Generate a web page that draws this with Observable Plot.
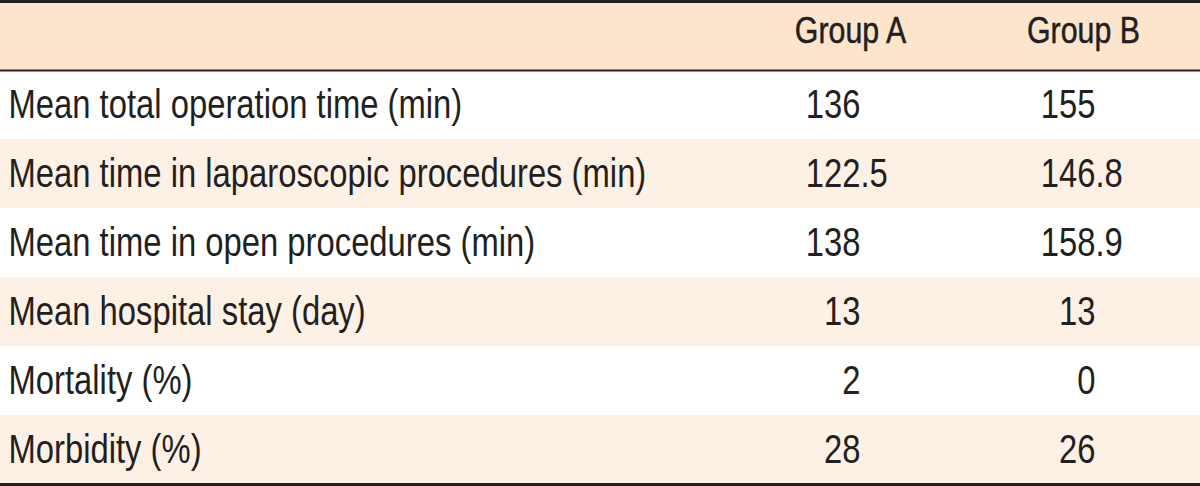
<!DOCTYPE html>
<html>
<head>
<meta charset="utf-8">
<script src="https://cdn.jsdelivr.net/npm/d3@7"></script>
<script src="https://cdn.jsdelivr.net/npm/@observablehq/plot@0.6"></script>
<style>
  html, body { margin: 0; padding: 0; background: #ffffff; overflow: hidden; }
  #chart svg { display: block; }
</style>
</head>
<body>
<div id="chart"></div>
<script>
// ---- data ----
const groups = ["Group A", "Group B"];
const rowLabels = [
  "Mean total operation time (min)",
  "Mean time in laparoscopic procedures (min)",
  "Mean time in open procedures (min)",
  "Mean hospital stay (day)",
  "Mortality (%)",
  "Morbidity (%)"
];
const groupAValues = ["136", "122.5", "138", "13", "2", "28"];
const groupBValues = ["155", "146.8", "158.9", "13", "0", "26"];

// ---- layout (in x-scale units: 0..1200 table width) ----
const tableWidth = 1200;
const labelX = 8;
const headerCenter = {"Group A": 850, "Group B": 1083};
const decimalAnchor = {"Group A": 860, "Group B": 1095};
const font = "'Liberation Sans', Arial, sans-serif";
const condense = 0.82; // horizontal squeeze to emulate a condensed face
const ink = "#231f20";

// table rows: index 0 = header, 1..6 = body
const bodyRows = rowLabels.map((label, k) => ({i: k + 1, label, a: groupAValues[k], b: groupBValues[k]}));
const stripes = [{i: 0, fill: "#fde5cd"}].concat(
  bodyRows.map(r => ({i: r.i, fill: r.i % 2 === 0 ? "#fdf1e5" : "#ffffff"}))
);
const cells = bodyRows.flatMap(r => [
  {i: r.i, group: "Group A", value: r.a},
  {i: r.i, group: "Group B", value: r.b}
]).map(c => {
  const dot = c.value.indexOf(".");
  return {...c, intPart: dot < 0 ? c.value : c.value.slice(0, dot), fracPart: dot < 0 ? "" : c.value.slice(dot)};
});
const headers = groups.map(g => ({group: g, i: 0}));

const chart = Plot.plot({
  width: 1200,
  height: 486,
  margin: 0,
  x: {type: "linear", domain: [0, tableWidth], range: [0, 1200], axis: null},
  y: {type: "linear", domain: [0, 7], range: [1, 484], axis: null},
  style: {background: "#ffffff", fontFamily: font},
  marks: [
    Plot.rect(stripes, {x1: () => 0, x2: () => tableWidth, y1: d => d.i, y2: d => d.i + 1, fill: d => d.fill}),
    Plot.ruleY([0], {stroke: ink, strokeWidth: 3}),
    Plot.ruleY([1], {stroke: "#2e221d", strokeWidth: 2}),
    Plot.ruleY([7], {stroke: ink, strokeWidth: 3}),
    Plot.text(headers, {
      x: d => headerCenter[d.group], y: d => d.i + 0.5, text: "group",
      textAnchor: "middle", fontSize: 37, dy: -5, fill: ink, stroke: ink, strokeWidth: 0.5,
      fontFamily: font
    }),
    Plot.text(bodyRows, {
      x: () => labelX, y: d => d.i + 0.5, text: "label",
      textAnchor: "start", fontSize: 40, fill: ink, fontFamily: font
    }),
    Plot.text(cells, {
      x: d => decimalAnchor[d.group], y: d => d.i + 0.5, text: "intPart",
      textAnchor: "end", fontSize: 40, fill: ink, fontFamily: font
    }),
    Plot.text(cells.filter(c => c.fracPart), {
      x: d => decimalAnchor[d.group], y: d => d.i + 0.5, text: "fracPart",
      textAnchor: "start", fontSize: 40, fill: ink, fontFamily: font
    })
  ]
});

// squeeze every text horizontally around its own anchor point
d3.select(chart).selectAll("text").each(function() {
  const t = this.getAttribute("transform");
  if (t) {
    this.setAttribute("transform", t + ` scale(${condense},1)`);
  } else {
    const x = +this.getAttribute("x") || 0;
    const y = +this.getAttribute("y") || 0;
    this.removeAttribute("x"); this.removeAttribute("y");
    this.setAttribute("transform", `translate(${x},${y}) scale(${condense},1)`);
  }
});
document.getElementById("chart").appendChild(chart);
</script>
</body>
</html>
